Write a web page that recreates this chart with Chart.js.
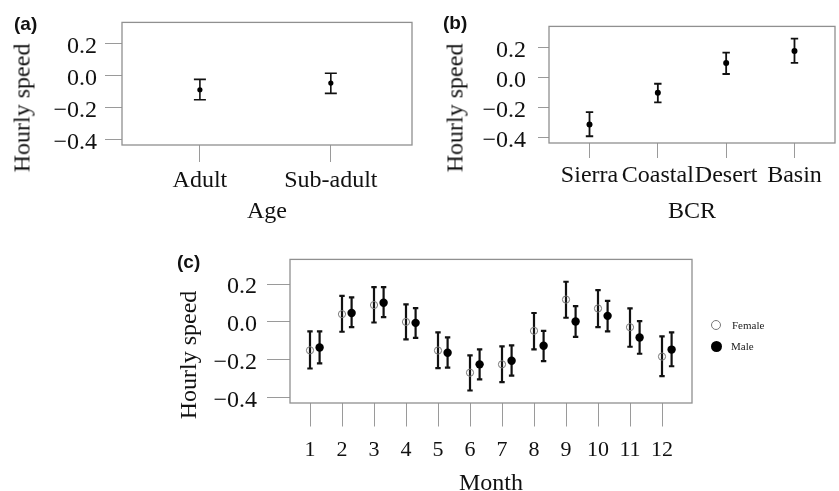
<!DOCTYPE html>
<html>
<head>
<meta charset="utf-8">
<script src="https://cdn.jsdelivr.net/npm/chart.js@4.4.1/dist/chart.umd.min.js"></script>
<style>
    html, body { margin: 0; padding: 0; background: #fff; }
    #wrap { position: relative; width: 839px; height: 491px; overflow: hidden; background: #fff; }
    canvas { position: absolute; }
    .ytitle {
        position: absolute; font: 24px "Liberation Serif", "DejaVu Serif", serif; color: #111;
        white-space: nowrap; transform: translate(-50%, -50%) rotate(-90deg);
    }
    .plab { position: absolute; font: bold 19px "Liberation Sans", Arial, sans-serif; line-height: 1; color: #111; }
    .leg { position: absolute; font: 11px "Liberation Serif", serif; color: #222; line-height: 1; }
    .dot { position: absolute; border-radius: 50%; box-sizing: border-box; }
</style>
</head>
<body>
<div id="wrap">
    <canvas id="ageChart" width="420" height="230" style="left:0;top:0"></canvas>
    <canvas id="bcrChart" width="419" height="230" style="left:420px;top:0"></canvas>
    <canvas id="monthChart" width="689" height="265" style="left:150px;top:235px"></canvas>

    <div class="plab" style="left:14px;top:14px">(a)</div>
    <div class="plab" style="left:443px;top:13px">(b)</div>
    <div class="plab" style="left:177px;top:252px">(c)</div>

    <div class="ytitle" style="left:22px;top:108px">Hourly speed</div>
    <div class="ytitle" style="left:455px;top:108px">Hourly speed</div>
    <div class="ytitle" style="left:188px;top:355px">Hourly speed</div>

    <div class="dot" style="left:711px;top:320px;width:10px;height:10px;border:1px solid #777"></div>
    <div class="leg" style="left:732px;top:320px">Female</div>
    <div class="dot" style="left:711px;top:341px;width:11px;height:11px;background:#000"></div>
    <div class="leg" style="left:731px;top:341px">Male</div>
</div>

<script>
// ---- data ----
const yTicks = [-0.4, -0.2, 0, 0.2];

// (a) age class
const ageLabels = ['Adult', 'Sub-adult'];
const ageMean  = [-0.088, -0.046];
const ageLower = [-0.151, -0.111];
const ageUpper = [-0.023, 0.016];

// (b) bird conservation region
const bcrLabels = ['Sierra', 'Coastal', 'Desert', 'Basin'];
const bcrMean  = [-0.314, -0.103, 0.097, 0.177];
const bcrLower = [-0.393, -0.166, 0.023, 0.097];
const bcrUpper = [-0.232, -0.042, 0.166, 0.259];

// (c) month by sex
const months = [1, 2, 3, 4, 5, 6, 7, 8, 9, 10, 11, 12];
const femaleMean  = [-0.150, 0.041, 0.089, 0.000, -0.151, -0.268, -0.224, -0.047, 0.118, 0.071, -0.028, -0.183];
const femaleLower = [-0.246, -0.052, -0.003, -0.092, -0.244, -0.362, -0.318, -0.145, 0.022, -0.027, -0.131, -0.286];
const femaleUpper = [-0.050, 0.137, 0.184, 0.093, -0.055, -0.177, -0.129, 0.047, 0.212, 0.168, 0.071, -0.076];
const maleMean  = [-0.135, 0.047, 0.101, -0.005, -0.163, -0.224, -0.205, -0.126, 0.002, 0.032, -0.082, -0.146];
const maleLower = [-0.219, -0.028, 0.025, -0.084, -0.241, -0.303, -0.283, -0.207, -0.079, -0.050, -0.168, -0.234];
const maleUpper = [-0.050, 0.130, 0.184, 0.073, -0.082, -0.145, -0.124, -0.047, 0.083, 0.111, 0.004, -0.055];
const maleShift = 0.3; // male dodged right of female

Chart.defaults.font.family = '"Liberation Serif", "DejaVu Serif", serif';
Chart.defaults.color = '#111';

// ---- plugins ----
// whiskers with caps, drawn under the points
const errorBars = {
    id: 'errorBars',
    beforeDatasetsDraw(chart, args, opts) {
        const { ctx } = chart;
        const y = chart.scales.y;
        ctx.save();
        ctx.strokeStyle = '#111';
        ctx.lineWidth = opts.width;
        chart.data.datasets.forEach((ds, i) => {
            chart.getDatasetMeta(i).data.forEach((pt, j) => {
                const top = y.getPixelForValue(ds.upper[j]);
                const bot = y.getPixelForValue(ds.lower[j]);
                ctx.beginPath();
                ctx.moveTo(pt.x, top); ctx.lineTo(pt.x, bot);
                ctx.moveTo(pt.x - opts.cap, top); ctx.lineTo(pt.x + opts.cap, top);
                ctx.moveTo(pt.x - opts.cap, bot); ctx.lineTo(pt.x + opts.cap, bot);
                ctx.stroke();
            });
        });
        ctx.restore();
    }
};

// R style box round the plot region
const frame = {
    id: 'frame',
    afterDraw(chart) {
        const { ctx, chartArea: a } = chart;
        ctx.save();
        ctx.strokeStyle = '#909090';
        ctx.lineWidth = 1.3;
        ctx.strokeRect(a.left, a.top, a.right - a.left, a.bottom - a.top);
        ctx.restore();
    }
};

function fmtY(v) {
    if (v === 0) return '0.0';
    return (v < 0 ? '\u2212' : '') + Math.abs(v).toFixed(1);
}

function xAxis(min, max, ticks, labelFn, o) {
    return {
        type: 'linear', min: min, max: max, bounds: 'data',
        afterBuildTicks: s => { s.ticks = ticks.map(v => ({ value: v })); },
        afterFit: s => { s.height = o.height; },
        grid: { drawOnChartArea: false, drawTicks: true, tickLength: o.tick, color: '#9a9a9a', lineWidth: 1 },
        border: { display: false },
        ticks: { callback: labelFn, autoSkip: false, maxRotation: 0, minRotation: 0, padding: o.pad, color: '#111', font: { size: o.size } },
        title: { display: true, text: o.title, color: '#111', font: { size: 24 }, padding: { top: 0, bottom: o.titlePad } }
    };
}

function yAxis(min, max, o) {
    return {
        type: 'linear', min: min, max: max, bounds: 'data',
        afterBuildTicks: s => { s.ticks = yTicks.map(v => ({ value: v })); },
        afterFit: s => { s.width = o.width; },
        grid: { drawOnChartArea: false, drawTicks: true, tickLength: o.tick, color: '#9a9a9a', lineWidth: 1 },
        border: { display: false },
        ticks: { callback: fmtY, padding: o.pad, labelOffset: 3, color: '#111', font: { size: 24 } }
    };
}

function baseOptions(pad, scales, bar) {
    return {
        responsive: false,
        animation: false,
        events: [],
        layout: { padding: pad },
        plugins: { legend: { display: false }, tooltip: { enabled: false }, errorBars: bar },
        scales: scales
    };
}

// ---- (a) Age ----
new Chart(document.getElementById('ageChart'), {
    type: 'scatter',
    data: {
        datasets: [{
            data: ageMean.map((m, i) => ({ x: i + 1, y: m })),
            lower: ageLower, upper: ageUpper,
            pointRadius: 2.6, backgroundColor: '#000', borderColor: '#000', borderWidth: 0
        }]
    },
    options: baseOptions({ top: 22, right: 8, left: 0, bottom: 0 }, {
        x: xAxis(0.405, 2.62, [1, 2], v => ageLabels[v - 1], { height: 85, tick: 17, pad: 4, size: 24, title: 'Age', titlePad: 4 }),
        y: yAxis(-0.436, 0.336, { width: 122, tick: 17, pad: 8 })
    }, { width: 1.6, cap: 6 }),
    plugins: [errorBars, frame]
});

// ---- (b) BCR ----
new Chart(document.getElementById('bcrChart'), {
    type: 'scatter',
    data: {
        datasets: [{
            data: bcrMean.map((m, i) => ({ x: i + 1, y: m })),
            lower: bcrLower, upper: bcrUpper,
            pointRadius: 3, backgroundColor: '#000', borderColor: '#000', borderWidth: 0
        }]
    },
    options: baseOptions({ top: 19, right: 2, left: 0, bottom: 0 }, {
        x: xAxis(0.407, 4.593, [1, 2, 3, 4], v => bcrLabels[v - 1], { height: 87, tick: 15, pad: 3, size: 24, title: 'BCR', titlePad: 4 }),
        y: yAxis(-0.438, 0.341, { width: 129, tick: 11, pad: 12 })
    }, { width: 1.8, cap: 3.7 }),
    plugins: [errorBars, frame]
});

// ---- (c) Month x sex ----
new Chart(document.getElementById('monthChart'), {
    type: 'scatter',
    data: {
        datasets: [
            {
                label: 'Female',
                data: femaleMean.map((m, i) => ({ x: months[i], y: m })),
                lower: femaleLower, upper: femaleUpper,
                pointRadius: 3.6, backgroundColor: 'rgba(0,0,0,0)', borderColor: '#777', borderWidth: 1
            },
            {
                label: 'Male',
                data: maleMean.map((m, i) => ({ x: months[i] + maleShift, y: m })),
                lower: maleLower, upper: maleUpper,
                pointRadius: 4.2, backgroundColor: '#000', borderColor: '#000', borderWidth: 0
            }
        ]
    },
    options: baseOptions({ top: 18, right: 147, left: 0, bottom: 0 }, {
        x: xAxis(0.375, 12.9375, months, v => String(v), { height: 97, tick: 23.5, pad: 11, size: 22, title: 'Month', titlePad: 2 }),
        y: yAxis(-0.428, 0.33, { width: 140, tick: 23, pad: 10 })
    }, { width: 2.2, cap: 2.7 }),
    plugins: [errorBars, frame]
});
</script>
</body>
</html>
